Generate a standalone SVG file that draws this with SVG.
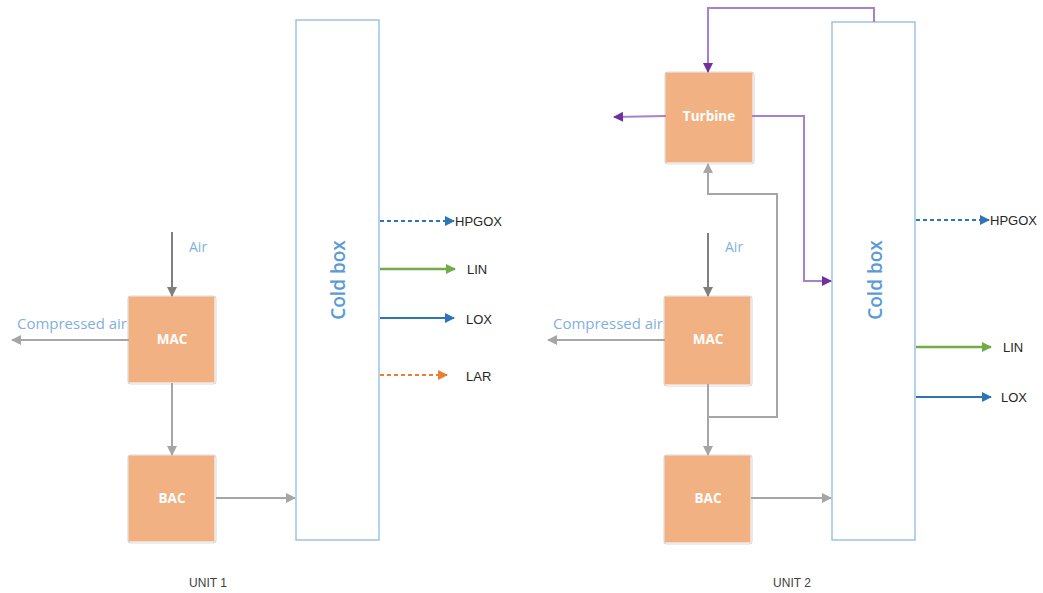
<svg xmlns="http://www.w3.org/2000/svg" width="1043" height="593" viewBox="0 0 1043 593">
<style>
.box{fill:#F2B183;stroke:#F2B183;stroke-width:1}
.shadow{fill:#fff;stroke:#D6DCE4;stroke-width:1.2}
.bt{font-family:"Open Sans","Liberation Sans",sans-serif;font-size:13.5px;font-weight:bold;fill:#FFFFFF;text-anchor:middle}
.cb{fill:#fff;stroke:#9DC3E6;stroke-width:1.5}
.cbt{font-family:"Open Sans","Liberation Sans",sans-serif;font-size:19px;font-weight:600;fill:#5B9BD5;text-anchor:middle}
.lbl{font-family:"Open Sans","Liberation Sans",sans-serif;font-size:14px;fill:#7FB0E0}
.out{font-family:"Liberation Sans",sans-serif;font-size:13px;fill:#262626}
.unit{font-family:"Liberation Sans",sans-serif;font-size:12px;fill:#404040;text-anchor:middle}
.g{fill:none;stroke:#A6A6A6;stroke-width:2}
.gd{fill:none;stroke:#7F7F7F;stroke-width:2}
.p{fill:none;stroke:#A880CC;stroke-width:2}
</style>
<defs>
<marker id="ag" markerWidth="10" markerHeight="10" refX="9" refY="5" orient="auto" markerUnits="userSpaceOnUse"><path d="M0,0 L10,5 L0,10 Z" fill="#A6A6A6"/></marker>
<marker id="agd" markerWidth="10" markerHeight="10" refX="9" refY="5" orient="auto" markerUnits="userSpaceOnUse"><path d="M0,0 L10,5 L0,10 Z" fill="#7F7F7F"/></marker>
<marker id="ap" markerWidth="10" markerHeight="10" refX="9" refY="5" orient="auto" markerUnits="userSpaceOnUse"><path d="M0,0 L10,5 L0,10 Z" fill="#7030A0"/></marker>
<marker id="ab" markerWidth="10" markerHeight="10" refX="9" refY="5" orient="auto" markerUnits="userSpaceOnUse"><path d="M0,0 L10,5 L0,10 Z" fill="#2E75B6"/></marker>
<marker id="agr" markerWidth="10" markerHeight="10" refX="9" refY="5" orient="auto" markerUnits="userSpaceOnUse"><path d="M0,0 L10,5 L0,10 Z" fill="#70AD47"/></marker>
<marker id="ao" markerWidth="10" markerHeight="10" refX="9" refY="5" orient="auto" markerUnits="userSpaceOnUse"><path d="M0,0 L10,5 L0,10 Z" fill="#ED7D31"/></marker>
</defs>
<rect width="1043" height="593" fill="#fff"/>

<g id="coldbox1"><rect class="cb" x="296" y="20" width="83" height="520"/><text class="cbt" transform="translate(345,280) rotate(-90)">Cold box</text></g>
<g id="mac1"><rect class="shadow" x="128" y="296" width="88" height="88" rx="3"/><rect class="box" x="129" y="297" width="85" height="85"/><text class="bt" x="172" y="344">MAC</text></g>
<g id="bac1"><rect class="shadow" x="128" y="455" width="88" height="88" rx="3"/><rect class="box" x="129" y="456" width="85" height="85"/><text class="bt" x="172" y="503">BAC</text></g>

<g id="coldbox2"><rect class="cb" x="832" y="22" width="83" height="518"/><text class="cbt" transform="translate(882,280) rotate(-90)">Cold box</text></g>
<g id="turbine"><rect class="shadow" x="665" y="72" width="89" height="92" rx="3"/><rect class="box" x="666" y="73" width="86" height="89"/><text class="bt" x="709" y="121">Turbine</text></g>
<g id="mac2"><rect class="shadow" x="664" y="296" width="88" height="90" rx="3"/><rect class="box" x="665" y="297" width="85" height="87"/><text class="bt" x="708" y="344">MAC</text></g>
<g id="bac2"><rect class="shadow" x="664" y="455" width="88" height="89" rx="3"/><rect class="box" x="665" y="456" width="85" height="86"/><text class="bt" x="708" y="503">BAC</text></g>

<g id="connectors">
<line class="gd" x1="172" y1="232" x2="172" y2="296" marker-end="url(#agd)"/>
<line class="g" x1="129" y1="340" x2="12" y2="340" marker-end="url(#ag)"/>
<line class="g" x1="172" y1="383" x2="172" y2="455" marker-end="url(#ag)"/>
<line class="g" x1="216" y1="498" x2="295" y2="498" marker-end="url(#ag)"/>
<line x1="380" y1="221" x2="454" y2="221" stroke="#2E75B6" stroke-width="2" stroke-dasharray="4,3" marker-end="url(#ab)"/>
<line x1="380" y1="269" x2="455" y2="269" stroke="#70AD47" stroke-width="2.5" marker-end="url(#agr)"/>
<line x1="380" y1="318" x2="454" y2="318" stroke="#2E75B6" stroke-width="2" marker-end="url(#ab)"/>
<line x1="380" y1="375" x2="447" y2="375" stroke="#ED7D31" stroke-width="2" stroke-dasharray="4,3" marker-end="url(#ao)"/>

<line class="gd" x1="708" y1="233" x2="708" y2="296" marker-end="url(#agd)"/>
<line class="g" x1="665" y1="340" x2="548" y2="340" marker-end="url(#ag)"/>
<line class="g" x1="708" y1="384" x2="708" y2="455" marker-end="url(#ag)"/>
<polyline class="g" points="708,417 777,417 777,194 708,194 708,164" marker-end="url(#ag)"/>
<line class="g" x1="751" y1="498" x2="831" y2="498" marker-end="url(#ag)"/>
<polyline class="p" points="874,22 874,8 708,8 708,72" marker-end="url(#ap)"/>
<line class="p" x1="666" y1="116" x2="614" y2="117" marker-end="url(#ap)"/>
<polyline class="p" points="752,116 804,116 804,281 831,281" marker-end="url(#ap)"/>
<line x1="916" y1="220" x2="989" y2="220" stroke="#2E75B6" stroke-width="2" stroke-dasharray="4,3" marker-end="url(#ab)"/>
<line x1="916" y1="347" x2="991" y2="347" stroke="#70AD47" stroke-width="2.5" marker-end="url(#agr)"/>
<line x1="916" y1="397" x2="991" y2="397" stroke="#2E75B6" stroke-width="2" marker-end="url(#ab)"/>
</g>

<g id="labels">
<text class="lbl" x="189" y="252">Air</text>
<text class="lbl" x="17" y="329" textLength="110" lengthAdjust="spacingAndGlyphs">Compressed air</text>
<text class="out" x="455" y="226">HPGOX</text>
<text class="out" x="467" y="274">LIN</text>
<text class="out" x="466" y="324">LOX</text>
<text class="out" x="466" y="381">LAR</text>
<text class="unit" x="208" y="587">UNIT 1</text>
<text class="lbl" x="725" y="252">Air</text>
<text class="lbl" x="553" y="329" textLength="110" lengthAdjust="spacingAndGlyphs">Compressed air</text>
<text class="out" x="990" y="225">HPGOX</text>
<text class="out" x="1003" y="352">LIN</text>
<text class="out" x="1001" y="402">LOX</text>
<text class="unit" x="792" y="587">UNIT 2</text>
</g>
</svg>
